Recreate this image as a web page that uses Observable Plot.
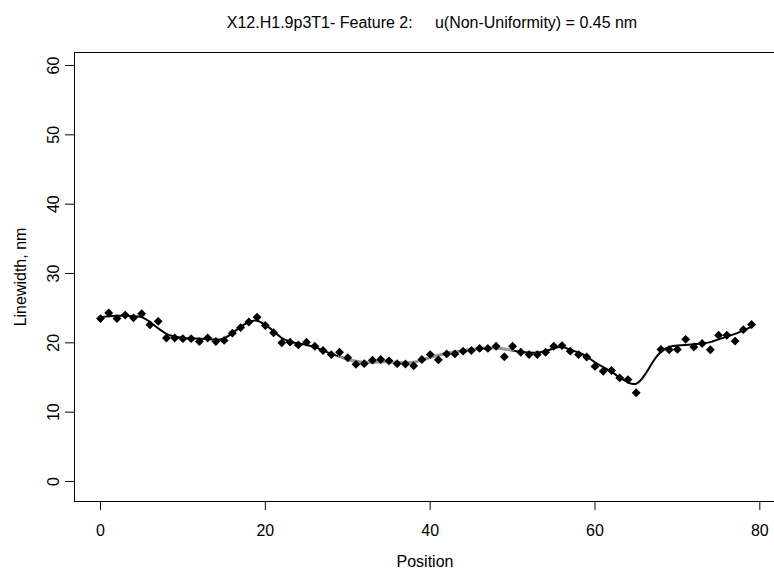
<!DOCTYPE html>
<html>
<head>
<meta charset="utf-8">
<script src="https://cdn.jsdelivr.net/npm/d3@7"></script>
<script src="https://cdn.jsdelivr.net/npm/@observablehq/plot@0.6"></script>
<style>
  html, body { margin: 0; padding: 0; background: #fff; }
  #chart svg { display: block; }
</style>
</head>
<body>
<div id="chart"></div>
<script>
const titleText = "X12.H1.9p3T1- Feature 2:     u(Non-Uniformity) = 0.45 nm";
const xLabel = "Position";
const yLabel = "Linewidth, nm";
const xTicks = [0, 20, 40, 60, 80];
const yTicks = [0, 10, 20, 30, 40, 50, 60];

const positions = [0,1,2,3,4,5,6,7,8,9,10,11,12,13,14,15,16,17,18,19,20,21,22,23,24,25,26,27,28,29,30,31,32,33,34,35,36,37,38,39,40,41,42,43,44,45,46,47,48,49,50,51,52,53,54,55,56,57,58,59,60,61,62,63,64,65,68,69,70,71,72,73,74,75,76,77,78,79];
const linewidths = [23.5,24.3,23.5,24.0,23.6,24.2,22.6,23.1,20.7,20.7,20.6,20.6,20.2,20.7,20.2,20.35,21.4,22.2,23.0,23.7,22.5,21.45,20.0,20.1,19.7,20.1,19.5,18.9,18.3,18.65,17.85,16.9,17.0,17.5,17.6,17.4,17.0,16.95,16.7,17.6,18.3,17.55,18.4,18.4,18.8,18.9,19.2,19.2,19.5,18.0,19.5,18.65,18.3,18.3,18.65,19.5,19.6,18.8,18.3,17.95,16.6,15.9,16.0,14.95,14.7,12.8,19.05,19.0,19.05,20.5,19.4,19.9,19.0,21.1,21.1,20.25,21.9,22.65];

const fitPositions = [0,1,2,3,4,5,6,7,8,9,10,11,12,13,14,15,16,17,18,19,20,21,22,23,24,25,26,27,28,29,30,31,32,33,34,35,36,37,38,39,40,41,42,43,44,45,46,47,48,49,50,51,52,53,54,55,56,57,58,59,60,61,62,63,64,65,66,67,68,69,70,71,72,73,74,75,76,77,78,79];
const fitValues = [23.7,23.85,23.9,23.9,23.85,23.7,23.0,22.1,21.3,20.9,20.7,20.65,20.6,20.55,20.45,20.65,21.4,22.3,23.0,23.2,22.6,21.7,20.7,20.2,19.9,19.7,19.4,18.9,18.4,18.0,17.6,17.35,17.2,17.2,17.25,17.25,17.15,17.1,17.2,17.5,17.9,18.2,18.5,18.7,18.9,19.05,19.15,19.25,19.25,19.1,18.9,18.7,18.6,18.6,18.8,19.2,19.4,19.0,18.6,18.0,17.2,16.5,15.8,15.0,14.3,14.1,15.3,17.2,18.7,19.4,19.6,19.7,19.8,19.9,20.1,20.5,20.9,21.3,21.8,22.3];

const grayPositions = [29,30,31,32,33,34,35,36,37,38,39,40,41,42,43,44,45,46,47,48,49,50];
const grayValues = [18.1,17.6,17.35,17.2,17.2,17.25,17.25,17.15,17.1,17.2,17.5,17.9,18.2,18.5,18.7,18.9,19.05,19.15,19.25,19.25,19.1,18.95];

const points = positions.map((p, i) => ({x: p, y: linewidths[i]}));
const fit = fitPositions.map((p, i) => ({x: p, y: fitValues[i]}));
const gray = grayPositions.map((p, i) => ({x: p, y: grayValues[i]}));

const font = "Liberation Sans, Arial, Helvetica, sans-serif";

const chart = Plot.plot({
  width: 774,
  height: 571,
  marginLeft: 74,
  marginRight: -15,
  marginTop: 52,
  marginBottom: 70,
  style: {fontFamily: font, fontSize: "16px", color: "black", background: "white"},
  x: {domain: [-3.155, 83.6], ticks: xTicks, label: null},
  y: {domain: [-2.885, 61.875], ticks: yTicks, label: null},
  marks: [
    Plot.frame({stroke: "black", strokeWidth: 1}),
    Plot.axisX({ticks: xTicks, tickSize: 9, tickPadding: 14, tickFormat: d => String(d), fontSize: 16, label: null}),
    Plot.axisY({ticks: yTicks, tickSize: 9, tickFormat: () => "", label: null}),
    Plot.text(yTicks, {y: d => d, text: d => String(d), frameAnchor: "left", dx: -21, rotate: -90, textAnchor: "middle", lineAnchor: "middle", fontSize: 16}),
    Plot.line(fit, {x: "x", y: "y", curve: "natural", stroke: "black", strokeWidth: 2}),
    Plot.line(gray, {x: "x", y: "y", curve: "natural", stroke: "#999999", strokeWidth: 3}),
    Plot.dot(points, {x: "x", y: "y", symbol: "diamond2", r: 4, fill: "black", stroke: "none"}),
    Plot.text([titleText], {text: d => d, frameAnchor: "top", dx: 0, dy: -25, lineAnchor: "bottom", fontSize: 16}),
    Plot.text([xLabel], {text: d => d, frameAnchor: "bottom", dx: -7, dy: 65, lineAnchor: "bottom", fontSize: 16}),
    Plot.text([yLabel], {text: d => d, frameAnchor: "left", dx: -54, rotate: -90, lineAnchor: "middle", textAnchor: "middle", fontSize: 16})
  ]
});
document.getElementById("chart").appendChild(chart);
</script>
</body>
</html>
